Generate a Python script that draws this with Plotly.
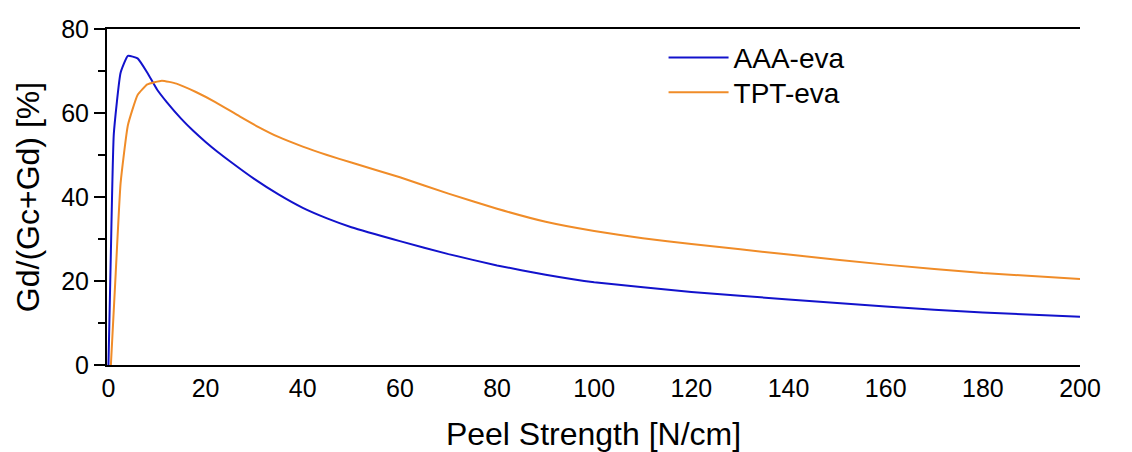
import plotly.graph_objects as go

# AAA-eva series
aaa_x = [0, 0.5, 1.1, 2.5, 4, 6, 8, 10, 12, 15, 17.5, 20, 22.5, 25, 30, 35, 40, 45, 50, 60, 70, 80, 90, 100, 120, 140, 160, 180, 200]
aaa_y = [0, 27, 55, 69.6, 73.6, 73.0, 69.6, 65.6, 62.6, 58.6, 55.7, 53.1, 50.7, 48.5, 44.3, 40.6, 37.4, 34.9, 32.8, 29.5, 26.4, 23.7, 21.5, 19.7, 17.4, 15.6, 13.9, 12.5, 11.5]

# TPT-eva series
tpt_x = [0.5, 1.5, 2.5, 4, 6, 8, 11, 14, 18, 22, 27, 31, 35, 40, 45, 50, 60, 70, 80, 90, 100, 110, 120, 140, 160, 180, 200]
tpt_y = [0, 22, 43.3, 57.1, 64.3, 66.8, 67.7, 67.0, 65.0, 62.6, 59.2, 56.6, 54.3, 52.0, 50.0, 48.2, 44.7, 40.8, 37.2, 34.1, 31.9, 30.2, 28.8, 26.3, 23.9, 21.9, 20.5]

x_ticks = [0, 20, 40, 60, 80, 100, 120, 140, 160, 180, 200]
y_ticks = [0, 20, 40, 60, 80]

font = "Liberation Sans, Arial, sans-serif"

fig = go.Figure()
fig.add_trace(go.Scatter(x=aaa_x, y=aaa_y, mode="lines", name="AAA-eva", legend="legend",
                         line=dict(color="#1212CC", width=2, shape="spline", smoothing=0.4)))
fig.add_trace(go.Scatter(x=tpt_x, y=tpt_y, mode="lines", name="TPT-eva", legend="legend2",
                         line=dict(color="#F08C28", width=2, shape="spline", smoothing=0.4)))

legend_style = dict(xanchor="left", yanchor="middle", bgcolor="rgba(0,0,0,0)",
                    font=dict(size=28), itemwidth=60)

fig.update_layout(
    width=1132, height=452,
    margin=dict(l=107, r=52, t=29, b=87),
    paper_bgcolor="white", plot_bgcolor="white",
    font=dict(family=font, size=25, color="black"),
    showlegend=True,
    legend=dict(x=0.572, y=0.9146, **legend_style),
    legend2=dict(x=0.572, y=0.811, **legend_style),
    xaxis=dict(range=[-0.3, 200], tickvals=x_ticks, ticks="",
               showline=True, linecolor="black", linewidth=2, mirror=True,
               showgrid=False, zeroline=False, automargin=False,
               title=dict(text="Peel Strength [N/cm]", font=dict(size=32), standoff=22),
               tickfont=dict(size=25)),
    yaxis=dict(range=[0, 80], tickvals=y_ticks, ticks="outside", ticklen=11, tickwidth=2,
               tickcolor="black", automargin=False,
               minor=dict(ticks="outside", ticklen=7, tickwidth=2, dtick=10, tickcolor="black"),
               showline=True, linecolor="black", linewidth=2,
               showgrid=False, zeroline=False,
               title=dict(text="Gd/(Gc+Gd) [%]", font=dict(size=32), standoff=12),
               tickfont=dict(size=25)),
    yaxis2=dict(range=[0, 80], tickvals=y_ticks, ticks="outside", ticklen=11, tickwidth=2,
                tickcolor="black", overlaying="y", side="right", anchor="x", automargin=False,
                minor=dict(ticks="outside", ticklen=7, tickwidth=2, dtick=10, tickcolor="black"),
                showline=True, linecolor="black", linewidth=2,
                showgrid=False, zeroline=False, tickfont=dict(size=25)),
)

fig.write_html("out.html")
